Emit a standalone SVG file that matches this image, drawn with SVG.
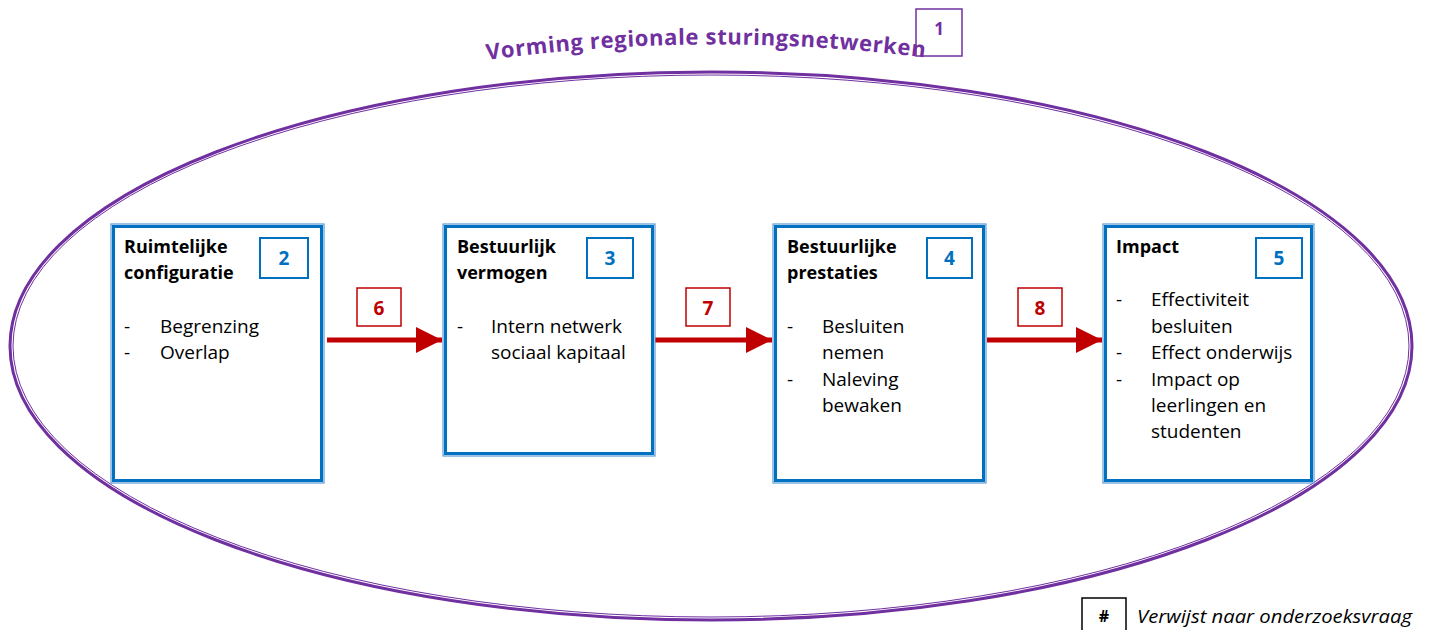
<svg xmlns="http://www.w3.org/2000/svg" width="1429" height="630" viewBox="0 0 1429 630">
<style>
.t{font-family:"Open Sans","Liberation Sans",sans-serif;font-size:19px;fill:#000}
.b{font-family:"Open Sans","Liberation Sans",sans-serif;font-size:18px;font-weight:bold;fill:#000}
.nb{fill:#fff;stroke:#0070C0;stroke-width:2}
.nt{font-family:"Open Sans","Liberation Sans",sans-serif;font-size:19px;font-weight:bold;fill:#0070C0;text-anchor:middle}
.rb{fill:#fff;stroke:#C00000;stroke-width:1.5}
.rt{font-family:"Open Sans","Liberation Sans",sans-serif;font-size:19px;font-weight:bold;fill:#C00000;text-anchor:middle}
.bo{fill:#fff;stroke:#5B9BD5;stroke-width:1.2}
.bi{fill:none;stroke:#0070C0;stroke-width:3}
.arr{stroke:#C00000;stroke-width:5;fill:none}
</style>
<defs>
<marker id="ah" viewBox="0 0 10 10" refX="10" refY="5" markerUnits="userSpaceOnUse" markerWidth="26" markerHeight="26" orient="auto">
<path d="M0,0 L10,5 L0,10 Z" fill="#C00000"/>
</marker>
<path id="arc" d="M487,60 Q706,30 930,58"/>
</defs>
<rect width="1429" height="630" fill="#fff"/>
<g id="frame">
<ellipse cx="711" cy="346" rx="701" ry="274" fill="none" stroke="#7030A0" stroke-width="3"/>
<ellipse cx="711" cy="346" rx="698" ry="271" fill="none" stroke="#7030A0" stroke-width="1"/>
<text font-family="'Open Sans','Liberation Sans',sans-serif" font-size="22" font-weight="bold" fill="#7030A0"><textPath href="#arc" textLength="439" lengthAdjust="spacing">Vorming regionale sturingsnetwerken</textPath></text>
<rect x="916" y="9" width="46" height="47" fill="none" stroke="#7030A0" stroke-width="1.5"/>
<text x="939" y="35" text-anchor="middle" font-family="'Open Sans','Liberation Sans',sans-serif" font-size="17" font-weight="bold" fill="#7030A0">1</text>
</g>
<g id="connectors">
<line class="arr" x1="327" y1="340" x2="442" y2="340" marker-end="url(#ah)"/>
<line class="arr" x1="655" y1="340" x2="772" y2="340" marker-end="url(#ah)"/>
<line class="arr" x1="987" y1="340" x2="1102" y2="340" marker-end="url(#ah)"/>
<rect class="rb" x="357" y="288" width="44" height="38"/>
<text class="rt" x="379" y="315">6</text>
<rect class="rb" x="686" y="288" width="44" height="38"/>
<text class="rt" x="708" y="315">7</text>
<rect class="rb" x="1018" y="288" width="44" height="38"/>
<text class="rt" x="1040" y="315">8</text>
</g>
<g id="n2">
<rect class="bo" x="111" y="224" width="213" height="259"/>
<rect class="bi" x="113.500" y="226.500" width="208" height="254"/>
<rect class="nb" x="260" y="238" width="48" height="40"/>
<text class="nt" x="284" y="265">2</text>
<text class="b" x="124" y="253">Ruimtelijke</text>
<text class="b" x="124" y="279">configuratie</text>
<text class="t" x="124" y="333">-</text><text class="t" x="160" y="333">Begrenzing</text>
<text class="t" x="124" y="359">-</text><text class="t" x="160" y="359">Overlap</text>
</g>
<g id="n3">
<rect class="bo" x="443" y="224" width="212" height="232"/>
<rect class="bi" x="445.500" y="226.500" width="207" height="227"/>
<rect class="nb" x="587" y="238" width="46" height="40"/>
<text class="nt" x="610" y="265">3</text>
<text class="b" x="457" y="253">Bestuurlijk</text>
<text class="b" x="457" y="279">vermogen</text>
<text class="t" x="457" y="333">-</text><text class="t" x="491" y="333">Intern netwerk</text>
<text class="t" x="491" y="359">sociaal kapitaal</text>
</g>
<g id="n4">
<rect class="bo" x="773" y="224" width="213" height="259"/>
<rect class="bi" x="775.500" y="226.500" width="208" height="254"/>
<rect class="nb" x="927" y="238" width="45" height="40"/>
<text class="nt" x="949.500" y="265">4</text>
<text class="b" x="787" y="253">Bestuurlijke</text>
<text class="b" x="787" y="279">prestaties</text>
<text class="t" x="787" y="333">-</text><text class="t" x="822" y="333">Besluiten</text>
<text class="t" x="822" y="359">nemen</text>
<text class="t" x="787" y="386">-</text><text class="t" x="822" y="386">Naleving</text>
<text class="t" x="822" y="412">bewaken</text>
</g>
<g id="n5">
<rect class="bo" x="1103" y="224" width="211" height="259"/>
<rect class="bi" x="1105.500" y="226.500" width="206" height="254"/>
<rect class="nb" x="1256" y="238" width="46" height="40"/>
<text class="nt" x="1279" y="265">5</text>
<text class="b" x="1116" y="253">Impact</text>
<text class="t" x="1116" y="306">-</text><text class="t" x="1151" y="306">Effectiviteit</text>
<text class="t" x="1151" y="333">besluiten</text>
<text class="t" x="1116" y="359">-</text><text class="t" x="1151" y="359">Effect onderwijs</text>
<text class="t" x="1116" y="386">-</text><text class="t" x="1151" y="386">Impact op</text>
<text class="t" x="1151" y="412">leerlingen en</text>
<text class="t" x="1151" y="438">studenten</text>
</g>
<g id="legend">
<rect x="1082" y="598" width="44" height="40" fill="#fff" stroke="#000" stroke-width="1.5"/>
<text x="1104" y="622" text-anchor="middle" font-family="'Open Sans','Liberation Sans',sans-serif" font-size="16" font-weight="bold" fill="#000">#</text>
<text x="1137" y="623" font-family="'Open Sans','Liberation Sans',sans-serif" font-size="18" font-style="italic" fill="#000" textLength="275" lengthAdjust="spacingAndGlyphs">Verwijst naar onderzoeksvraag</text>
</g>
</svg>
